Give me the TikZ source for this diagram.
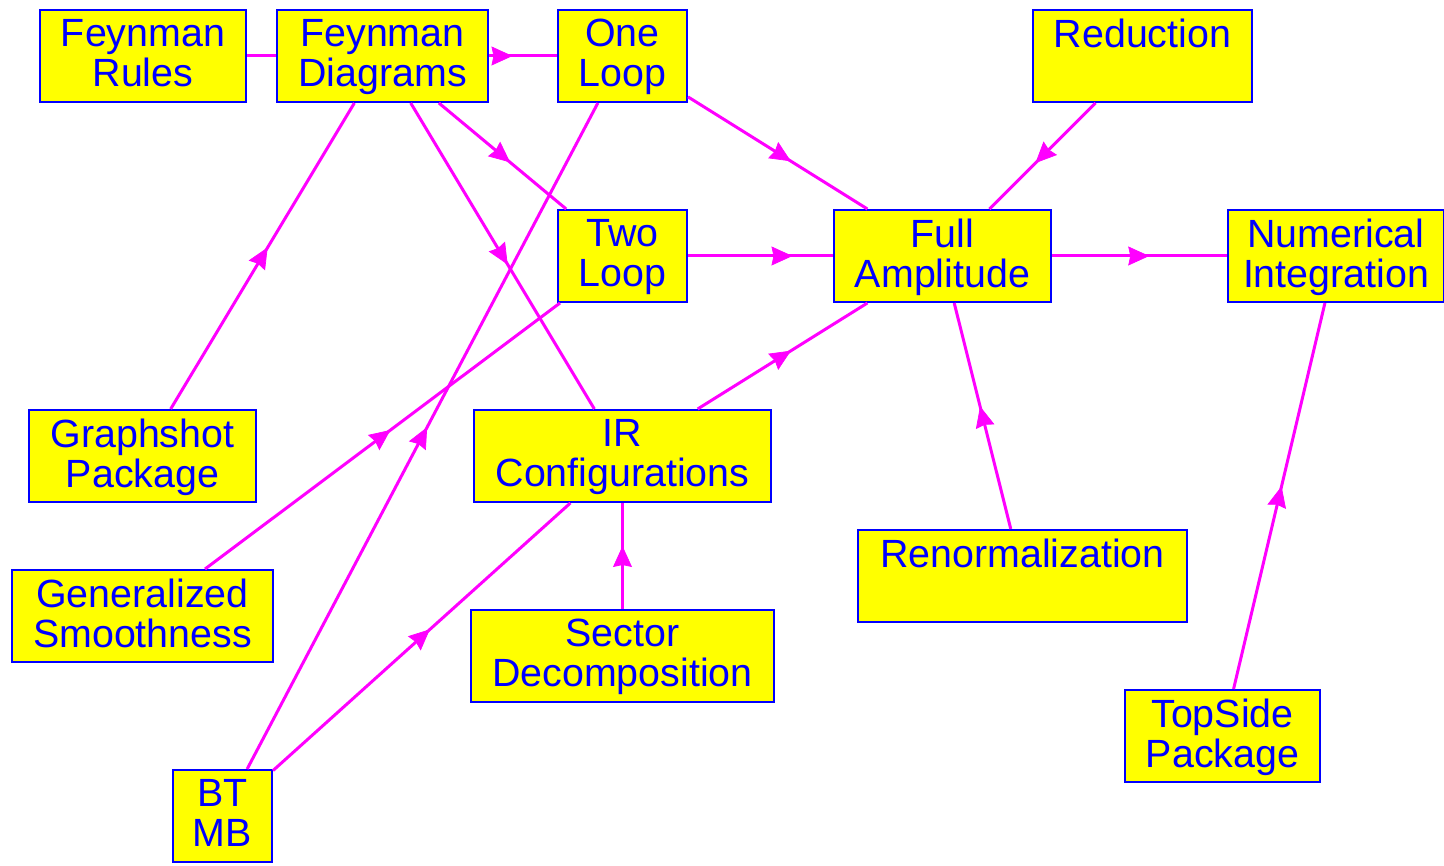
\documentclass[tikz,border=0pt]{standalone}
\usepackage{fontspec}
\setmainfont{Liberation Sans}
\usetikzlibrary{arrows.meta, decorations.markings}
\definecolor{boxfill}{HTML}{FFFF00}
\definecolor{boxline}{HTML}{0000FF}
\definecolor{flowpink}{HTML}{FF00FF}

\tikzset{
  topic/.style={draw=boxline, fill=boxfill, text=boxline, line width=0.04cm,
    inner sep=0pt, minimum height=1.84cm, align=center,
    font=\fontsize{22.4}{22.8}\selectfont, text depth=0.12cm},
  flow/.style={draw=flowpink, line width=0.06cm},
  midtip/.style={decorate, decoration={markings,
    mark=at position 0.5 with {\arrow[xshift=0.2cm]{Stealth[length=0.42cm, width=0.38cm, inset=0.04cm, color=flowpink, fill=flowpink]}}}}
}

\begin{document}
\begin{tikzpicture}

\useasboundingbox (0,0) rectangle (28.88,17.32);

% Top row
\node[topic, minimum width=4.12cm] (fr) at (2.86,16.2) {Feynman\\Rules};
\node[topic, minimum width=4.22cm] (fd) at (7.65,16.2) {Feynman\\Diagrams};
\node[topic, minimum width=2.58cm] (ol) at (12.45,16.2) {One\\Loop};
\node[topic, minimum width=4.38cm] (red) at (22.85,16.2) {Reduction\\\mbox{}};

% Middle row
\node[topic, minimum width=2.58cm] (tl) at (12.45,12.2) {Two\\Loop};
\node[topic, minimum width=4.34cm] (fa) at (18.85,12.2) {Full\\Amplitude};
\node[topic, minimum width=4.32cm] (ni) at (26.72,12.2) {Numerical\\Integration};

% Lower rows
\node[topic, minimum width=4.54cm] (gp) at (2.85,8.2) {Graphshot\\Package};
\node[topic, minimum width=5.94cm] (ir) at (12.45,8.2) {IR\\Configurations};
\node[topic, minimum width=6.58cm] (ren) at (20.45,5.8) {Renormalization\\\mbox{}};
\node[topic, minimum width=5.22cm] (gs) at (2.85,5.0) {Generalized\\Smoothness};
\node[topic, minimum width=6.06cm] (sd) at (12.45,4.2) {Sector\\Decomposition};
\node[topic, minimum width=3.9cm] (ts) at (24.45,2.6) {TopSide\\Package};
\node[topic, minimum width=1.98cm] (bt) at (4.45,1.0) {BT\\MB};

% Links
\draw[flow] (fr) -- (fd);

\draw[flow] (fd) -- (ol);
\path[midtip] (fd.center) -- (ol.center);
\draw[flow] (fd) -- (tl);
\path[midtip] (fd.center) -- (tl.center);
\draw[flow] (fd) -- (ir);
\path[midtip] (fd.center) -- (ir.center);
\draw[flow] (gp) -- (fd);
\path[midtip] (gp.center) -- (fd.center);

\draw[flow] (ol) -- (fa);
\path[midtip] (ol.center) -- (fa.center);
\draw[flow] (bt) -- (ol);
\path[midtip] (bt.center) -- (ol.center);

\draw[flow] (tl) -- (fa);
\path[midtip] (tl.center) -- (fa.center);
\draw[flow] (gs) -- (tl);
\path[midtip] (gs.center) -- (tl.center);

\draw[flow] (ir) -- (fa);
\path[midtip] (ir.center) -- (fa.center);
\draw[flow] (red) -- (fa);
\path[midtip] (red.center) -- (fa.center);
\draw[flow] (ren) -- (fa);
\path[midtip] (ren.center) -- (fa.center);

\draw[flow] (fa) -- (ni);
\path[midtip] (fa.center) -- (ni.center);
\draw[flow] (ts) -- (ni);
\path[midtip] (ts.center) -- (ni.center);

\draw[flow] (bt) -- (ir);
\path[midtip] (bt.center) -- (ir.center);
\draw[flow] (sd) -- (ir);
\path[midtip] (sd.center) -- (ir.center);

\end{tikzpicture}
\end{document}
